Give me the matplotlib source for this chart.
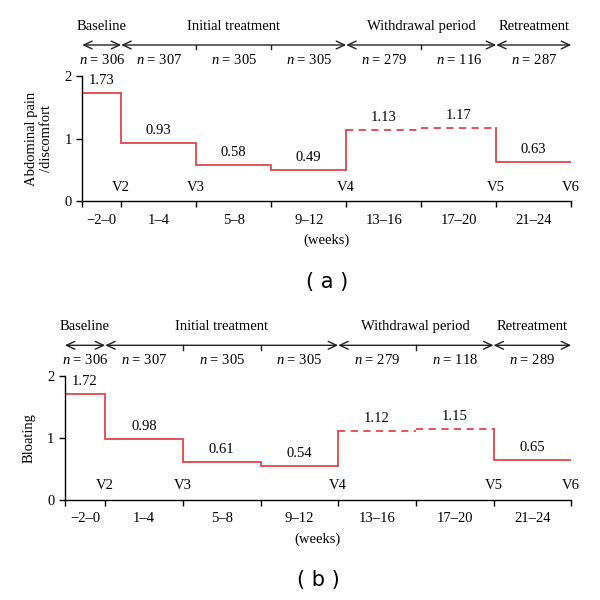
import matplotlib
matplotlib.use("Agg")
import matplotlib.pyplot as plt
from matplotlib.transforms import blended_transform_factory

plt.rcParams["font.family"] = ["Liberation Serif", "DejaVu Serif"]
plt.rcParams["mathtext.fontset"] = "custom"
plt.rcParams["mathtext.rm"] = "Liberation Serif"
plt.rcParams["mathtext.it"] = "Liberation Serif:italic"

# Data
weeks = ["\u22122\u20130", "1\u20134", "5\u20138", "9\u201312", "13\u201316", "17\u201320", "21\u201324"]
pain = [1.73, 0.93, 0.58, 0.49, 1.13, 1.17, 0.63]
bloating = [1.72, 0.98, 0.61, 0.54, 1.12, 1.15, 0.65]
n_pain = [306, 307, 305, 305, 279, 116, 287]
n_bloating = [306, 307, 305, 305, 279, 118, 289]
visits = ["V2", "V3", "V4", "V5", "V6"]
visit_seg = [0, 1, 3, 5, 6]          # boundary index for each visit
phases = ["Baseline", "Initial treatment", "Withdrawal period", "Retreatment"]
phase_span = [(0, 0), (1, 3), (4, 5), (6, 6)]   # first and last segment
dashed_segs = [4, 5]

RED = "#e2454a"
FS = 10.5

# segment edges: short baseline, then one unit per 4-week block
edges = [-0.52] + list(range(len(weeks)))
centers = [(edges[i] + edges[i + 1]) / 2 for i in range(len(weeks))]


def draw_panel(ax, values, nvals, ylabel, tag):
    # solid step through initial treatment
    xs, ys = [], []
    for i in range(4):
        xs += [edges[i], edges[i + 1]]
        ys += [values[i], values[i]]
    xs.append(edges[4])
    ys.append(values[4])
    ax.plot(xs, ys, color=RED, lw=1.3, solid_joinstyle="miter")
    # withdrawal period (dashed)
    for i in dashed_segs:
        ax.plot([edges[i], edges[i + 1]], [values[i], values[i]], color=RED,
                lw=1.3, ls=(0, (4, 3)))
    # retreatment
    ax.plot([edges[6], edges[6], edges[7]], [values[5], values[6], values[6]],
            color=RED, lw=1.3)

    for c, v in zip(centers, values):
        ax.annotate(f"{v:.2f}", (c, v), xytext=(0, 9), textcoords="offset points",
                    ha="center", va="center", fontsize=FS)
    for lab, k in zip(visits, visit_seg):
        ax.annotate(lab, (edges[k + 1], 0), xytext=(0, 10), textcoords="offset points",
                    ha="center", va="center", fontsize=FS)

    ax.set_xlim(edges[0], edges[-1])
    ax.set_ylim(0, 2)
    ax.set_yticks([0, 1, 2])
    ax.set_xticks(edges)
    ax.set_xticklabels([])
    ax.set_xticks(centers, minor=True)
    ax.set_xticklabels(weeks, minor=True)
    ax.tick_params(axis="x", which="minor", length=0, pad=9, labelsize=FS)
    ax.tick_params(axis="both", which="major", length=4, width=1, labelsize=FS)
    ax.spines["top"].set_visible(False)
    ax.spines["right"].set_visible(False)
    for s in ("left", "bottom"):
        ax.spines[s].set_linewidth(1)
    ax.set_xlabel("(weeks)", fontsize=FS, labelpad=5)
    ax.set_ylabel(ylabel, fontsize=FS, labelpad=8)

    # phase header with arrows
    tr = blended_transform_factory(ax.transData, ax.transAxes)
    y_arr, y_name, y_n = 1.25, 1.40, 1.13
    for name, (a, b) in zip(phases, phase_span):
        x0, x1 = edges[a], edges[b + 1]
        ax.annotate("", xy=(x1, y_arr), xytext=(x0, y_arr), xycoords=tr, textcoords=tr,
                    arrowprops=dict(arrowstyle="<->,head_length=0.6,head_width=0.28",
                                    lw=1, color="#222222", shrinkA=0, shrinkB=0),
                    annotation_clip=False)
        for k in range(a + 1, b + 1):
            ax.plot([edges[k], edges[k]], [y_arr, y_arr - 0.035], transform=tr,
                    color="#222222", lw=1, clip_on=False)
        ax.text((x0 + x1) / 2, y_name, name, transform=tr, ha="center", va="center",
                fontsize=FS)
    for c, nv in zip(centers, nvals):
        ax.text(c, y_n, f"$n$ = {nv}", transform=tr, ha="center", va="center",
                fontsize=FS)

    ax.text(0.5, -0.65, "( " + tag + " )", transform=ax.transAxes, ha="center",
            va="center", fontsize=15, family="DejaVu Sans")


fig = plt.figure(figsize=(6, 6), dpi=100)
ax1 = fig.add_axes([0.137, 0.665, 0.815, 0.208])
ax2 = fig.add_axes([0.108, 0.167, 0.844, 0.206])

draw_panel(ax1, pain, n_pain, "Abdominal pain\n/discomfort", "a")
draw_panel(ax2, bloating, n_bloating, "Bloating", "b")

fig.savefig("out.png", dpi=100)
